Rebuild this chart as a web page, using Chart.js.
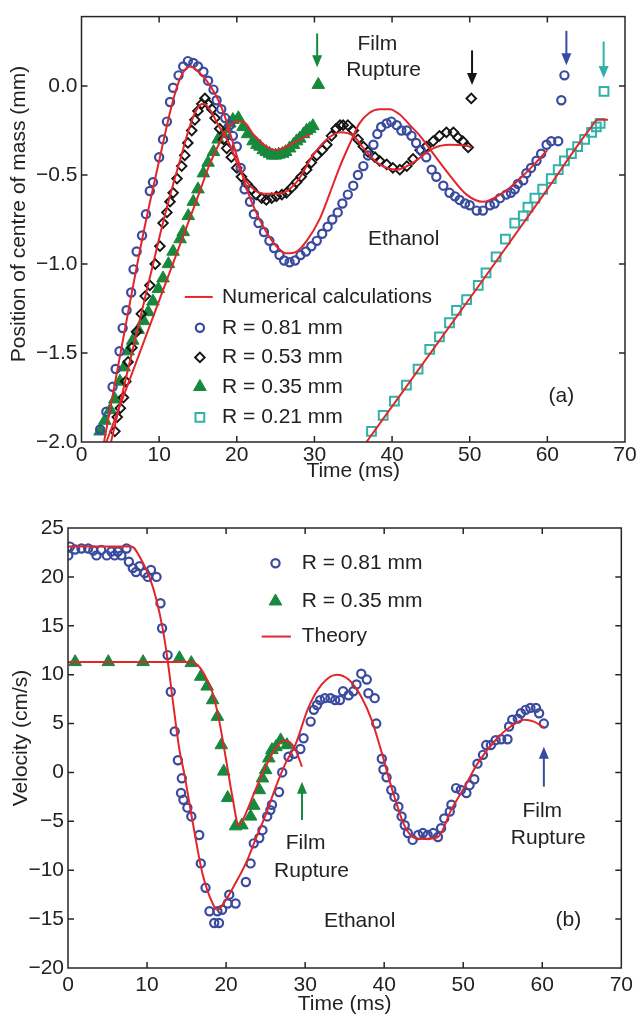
<!DOCTYPE html>
<html><head><meta charset="utf-8">
<script src="https://cdn.jsdelivr.net/npm/chart.js@4.4.0/dist/chart.umd.min.js"></script>
<style>
html,body{margin:0;padding:0;background:#fff;}
body{width:638px;height:1017px;position:relative;overflow:hidden;}
canvas{position:absolute;left:0;}
#ca{top:0;} #cb{top:484px;}
</style></head><body>
<canvas id="ca" width="638" height="484"></canvas>
<canvas id="cb" width="638" height="533"></canvas>
<script>
// shared axis ticks
const ticksX=[0,10,20,30,40,50,60,70];
const aTicksY=[-2,-1.5,-1,-0.5,0];
const bTicksY=[-20,-15,-10,-5,0,5,10,15,20,25];

// (a) position of centre of mass (mm) vs time (ms)
const aBlue=[[2.4,-1.93],[3.2,-1.83],[4.0,-1.69],[4.4,-1.59],[4.9,-1.49],[5.3,-1.36],[5.8,-1.26],[6.4,-1.16],[6.7,-1.03],[7.1,-0.93],[7.8,-0.84],[8.3,-0.72],[8.8,-0.59],[9.2,-0.54],[10.0,-0.40],[10.5,-0.30],[11.0,-0.20],[11.4,-0.09],[11.8,-0.01],[12.5,0.06],[13.1,0.11],[13.7,0.14],[14.4,0.13],[15.0,0.11],[15.7,0.08],[16.3,0.03],[17.0,-0.02],[17.4,-0.08],[18.0,-0.13],[18.5,-0.18],[19.1,-0.22],[19.5,-0.28],[20.0,-0.34],[20.5,-0.46],[21.0,-0.58],[21.7,-0.65],[22.2,-0.72],[22.8,-0.77],[23.5,-0.82],[24.2,-0.87],[24.8,-0.91],[25.5,-0.95],[26.1,-0.98],[26.8,-0.99],[27.5,-0.98],[28.2,-0.95],[28.9,-0.93],[29.6,-0.90],[30.3,-0.87],[31.0,-0.83],[31.7,-0.79],[32.3,-0.75],[33.0,-0.71],[33.6,-0.66],[34.3,-0.61],[35.0,-0.56],[35.6,-0.50],[36.3,-0.45],[36.9,-0.39],[37.6,-0.33],[38.1,-0.27],[38.6,-0.23],[39.3,-0.21],[39.9,-0.20],[40.6,-0.22],[41.2,-0.25],[41.9,-0.25],[42.5,-0.28],[43.1,-0.32],[43.7,-0.36],[44.4,-0.40],[45.1,-0.47],[45.7,-0.51],[46.6,-0.56],[47.4,-0.60],[48.1,-0.62],[48.7,-0.64],[49.4,-0.66],[50.0,-0.67],[50.9,-0.70],[51.7,-0.70],[52.6,-0.67],[53.2,-0.66],[53.9,-0.63],[54.7,-0.61],[55.3,-0.60],[55.8,-0.58],[56.2,-0.55],[56.9,-0.53],[57.3,-0.49],[57.9,-0.46],[58.6,-0.42],[59.2,-0.38],[59.9,-0.33],[60.5,-0.31],[61.4,-0.31],[61.8,-0.08],[62.2,0.06]];
const aBlack=[[4.3,-1.94],[4.6,-1.86],[5.0,-1.81],[5.4,-1.75],[5.7,-1.66],[6.0,-1.55],[6.5,-1.47],[7.1,-1.38],[7.7,-1.28],[8.2,-1.18],[8.8,-1.12],[9.5,-1.00],[10.1,-0.90],[10.5,-0.77],[11.0,-0.71],[11.4,-0.65],[11.8,-0.60],[12.3,-0.52],[12.9,-0.45],[13.3,-0.39],[13.7,-0.32],[14.2,-0.25],[14.6,-0.19],[15.0,-0.14],[15.5,-0.10],[15.9,-0.07],[16.3,-0.10],[16.8,-0.13],[17.2,-0.18],[17.8,-0.24],[18.3,-0.30],[18.7,-0.35],[19.3,-0.40],[20.0,-0.46],[20.6,-0.51],[21.3,-0.55],[21.9,-0.58],[22.5,-0.61],[23.2,-0.63],[23.8,-0.64],[24.5,-0.63],[25.1,-0.62],[25.8,-0.61],[26.4,-0.60],[27.1,-0.57],[27.7,-0.54],[28.3,-0.51],[29.0,-0.47],[29.6,-0.43],[30.3,-0.39],[31.0,-0.36],[31.6,-0.33],[32.2,-0.28],[32.8,-0.24],[33.3,-0.22],[33.7,-0.22],[34.3,-0.22],[35.0,-0.25],[35.6,-0.30],[36.3,-0.34],[36.9,-0.37],[37.8,-0.40],[38.4,-0.42],[39.3,-0.44],[40.1,-0.46],[41.0,-0.47],[41.9,-0.45],[42.7,-0.41],[43.6,-0.36],[44.4,-0.34],[45.3,-0.31],[46.1,-0.28],[47.0,-0.26],[47.9,-0.26],[48.5,-0.29],[49.1,-0.31],[49.8,-0.345],[50.2,-0.07]];
const aGreen=[[2.4,-1.94],[3.0,-1.88],[3.7,-1.82],[4.3,-1.76],[4.95,-1.66],[5.5,-1.58],[6.0,-1.49],[6.6,-1.43],[7.3,-1.37],[8.0,-1.32],[8.6,-1.27],[9.2,-1.21],[9.9,-1.14],[10.5,-1.08],[11.2,-1.00],[11.8,-0.93],[12.7,-0.86],[13.1,-0.82],[13.75,-0.73],[14.4,-0.65],[15.0,-0.58],[15.7,-0.49],[16.3,-0.43],[17.0,-0.37],[17.6,-0.30],[18.2,-0.27],[18.7,-0.24],[19.1,-0.21],[19.5,-0.19],[20.2,-0.18],[20.8,-0.23],[21.4,-0.27],[22.1,-0.31],[22.6,-0.33],[23.0,-0.34],[23.4,-0.36],[23.8,-0.37],[24.2,-0.38],[24.6,-0.39],[25.0,-0.39],[25.4,-0.385],[25.9,-0.38],[26.3,-0.37],[26.8,-0.35],[27.3,-0.33],[27.7,-0.31],[28.1,-0.295],[28.6,-0.27],[29.0,-0.25],[29.4,-0.24],[29.8,-0.225],[30.5,0.007]];
const aCyan=[[37.35,-1.94],[38.85,-1.85],[40.3,-1.77],[41.85,-1.68],[43.35,-1.59],[44.85,-1.48],[46.1,-1.41],[47.4,-1.33],[48.3,-1.26],[49.6,-1.20],[51.1,-1.12],[52.1,-1.05],[53.4,-0.96],[54.6,-0.86],[55.8,-0.77],[56.9,-0.73],[57.5,-0.68],[58.4,-0.63],[59.4,-0.58],[60.5,-0.52],[61.4,-0.47],[62.2,-0.42],[63.1,-0.38],[63.9,-0.34],[64.8,-0.30],[65.7,-0.26],[66.3,-0.23],[66.8,-0.21],[67.3,-0.03]];
const aCalcBlue=[[2.9,-2.0],[8.0,-0.82],[10.0,-0.42],[11.5,-0.13],[12.5,0.02],[13.3,0.09],[14.0,0.11],[14.8,0.09],[16.1,0.03],[17.4,-0.06],[18.3,-0.15],[19.1,-0.26],[20.4,-0.45],[21.3,-0.58],[22.5,-0.71],[23.8,-0.82],[25.1,-0.90],[26.4,-0.94],[27.7,-0.93],[29.0,-0.87],[30.7,-0.745],[32.0,-0.60],[33.3,-0.45],[34.6,-0.32],[35.8,-0.21],[37.1,-0.15],[38.4,-0.13],[39.7,-0.13],[41.0,-0.16],[42.3,-0.22],[43.6,-0.28],[45.3,-0.38],[47.4,-0.50],[49.6,-0.61],[51.7,-0.65],[53.9,-0.61],[56.0,-0.54],[58.1,-0.45],[60.0,-0.36]];
const aCalcBlack=[[3.8,-2.0],[10.2,-0.82],[11.5,-0.60],[12.8,-0.40],[14.0,-0.22],[15.0,-0.12],[15.7,-0.10],[16.5,-0.13],[17.5,-0.21],[19.1,-0.33],[20.4,-0.47],[21.3,-0.54],[23.4,-0.605],[25.5,-0.605],[27.7,-0.54],[29.8,-0.39],[31.6,-0.30],[33.3,-0.26],[35.0,-0.28],[36.7,-0.37],[38.4,-0.44],[40.6,-0.47],[42.7,-0.43],[45.3,-0.35],[47.4,-0.33],[49.6,-0.335],[50.2,-0.345]];
const aCalcGreen=[[3.2,-2.0],[13.3,-0.82],[15.0,-0.62],[16.5,-0.44],[18.0,-0.30],[19.0,-0.23],[20.0,-0.20],[20.8,-0.20],[22.1,-0.27],[23.8,-0.34],[25.1,-0.36],[26.4,-0.34],[28.1,-0.30],[29.5,-0.27]];
const aCalcCyan=[[36.7,-2.0],[51.7,-1.09],[60.0,-0.58],[65.5,-0.24],[66.5,-0.19],[67.8,-0.19]];

// (b) velocity (cm/s) vs time (ms)
const bBlue=[[0.04,22.2],[0.25,23.1],[0.9,22.8],[1.7,22.9],[2.55,22.9],[3.2,22.7],[3.6,22.2],[4.2,22.75],[4.9,22.2],[5.5,22.6],[5.9,22.2],[6.3,22.6],[6.75,22.2],[7.4,22.9],[7.7,21.55],[8.2,20.9],[8.6,20.5],[9.05,21.1],[9.7,20.4],[10.1,20.0],[10.5,20.7],[11.2,20.0],[11.7,17.3],[11.9,14.75],[12.6,12.0],[13.0,8.25],[13.5,4.2],[13.9,1.25],[14.3,-2.1],[14.4,-0.6],[14.6,-2.8],[15.1,-3.6],[15.6,-4.5],[16.6,-6.4],[16.8,-9.3],[17.4,-11.8],[17.9,-14.2],[18.5,-15.4],[18.9,-14.2],[19.1,-15.4],[19.5,-14.05],[20.2,-13.4],[20.4,-12.5],[21.2,-13.4],[22.5,-11.2],[23.1,-9.3],[23.5,-7.25],[24.2,-6.7],[24.6,-5.9],[25.2,-4.5],[25.6,-3.85],[25.8,-3.3],[26.7,-2.0],[27.1,0.0],[27.9,1.6],[28.6,1.9],[29.4,2.4],[29.8,3.5],[30.7,5.2],[31.1,6.4],[31.5,6.9],[31.9,7.4],[32.5,7.6],[33.2,7.6],[33.8,7.4],[34.4,7.4],[34.8,8.3],[35.5,7.9],[36.1,8.3],[36.5,9.0],[37.1,10.1],[37.8,9.5],[38.0,8.1],[38.8,7.6],[39.0,5.0],[39.7,1.4],[39.9,0.3],[40.3,-0.5],[40.9,-1.8],[41.3,-2.5],[41.8,-3.5],[42.2,-4.5],[42.6,-5.4],[43.0,-6.2],[43.6,-6.9],[44.3,-6.4],[44.9,-6.2],[45.5,-6.4],[46.2,-6.2],[46.8,-6.6],[47.2,-5.7],[47.6,-4.7],[48.3,-4.0],[48.5,-3.3],[49.1,-1.6],[49.7,-1.8],[50.4,-2.1],[50.8,-1.3],[51.4,-0.7],[51.8,0.9],[52.5,1.8],[52.9,2.8],[53.5,2.8],[54.1,3.3],[54.8,3.4],[55.6,3.4],[55.8,4.7],[56.2,5.4],[56.9,5.5],[57.3,6.05],[57.9,6.4],[58.5,6.6],[59.2,6.6],[59.6,6.05],[60.2,5.0]];
const bGreen=[[0.9,11.3],[5.1,11.3],[9.5,11.3],[14.1,11.7],[15.6,11.2],[16.8,9.8],[17.6,8.8],[18.3,7.4],[18.9,5.7],[19.4,2.8],[19.7,0.1],[20.2,-2.6],[21.2,-5.5],[22.0,-5.4],[23.1,-4.5],[23.5,-3.4],[24.2,-1.8],[24.6,-0.6],[25.0,0.25],[25.4,1.45],[25.8,2.3],[26.3,2.6],[26.9,3.3],[27.7,2.8]];
const bTheoryBlue=[[0,23.1],[8.0,23.1],[9.5,21.4],[10.3,20.0],[11.2,17.6],[12.0,14.6],[12.6,11.5],[13.25,7.4],[14.1,2.3],[14.7,-0.1],[15.8,-5.2],[17.0,-10.3],[18.3,-13.4],[18.9,-14.05],[20.0,-13.0],[21.2,-11.3],[22.5,-9.3],[23.7,-6.9],[25.0,-4.35],[26.3,-1.45],[27.5,0.9],[28.8,2.9],[30.4,6.6],[32.1,9.0],[34.0,10.0],[35.5,9.5],[37.1,7.75],[38.4,5.4],[39.7,2.0],[40.9,-1.45],[42.6,-5.5],[43.9,-6.7],[45.1,-6.8],[46.8,-6.6],[48.5,-3.8],[50.2,-1.45],[51.8,0.9],[54.3,3.5],[56.0,4.7],[57.7,5.4],[58.95,5.2],[60.2,4.6]];
const bTheoryGreen=[[0,11.3],[15.5,11.3],[16.4,11.0],[17.2,10.1],[18.3,8.1],[19.1,5.4],[20.0,1.3],[20.8,-2.5],[21.6,-5.4],[22.7,-3.8],[23.7,-1.8],[25.0,0.6],[26.3,2.5],[27.3,3.3],[28.6,2.6],[29.6,0.6]];

const FAM='"Liberation Sans", Arial, Helvetica, sans-serif';
const FONT='21px '+FAM;
Chart.defaults.font.family=FAM;
Chart.defaults.font.size=21;
Chart.defaults.color='#222';
const C={red:'#e3262b',blue:'#3a4b9f',black:'#151515',green:'#17893c',cyan:'#2fb2a8',ink:'#222'};

const xy=p=>p.map(([x,y])=>({x,y}));
function marks(data,color,style,r,bw,fill){
  return {data:xy(data),order:1,pointStyle:style,pointRadius:r,pointHoverRadius:r,pointBorderWidth:bw,
    pointBorderColor:color,pointBackgroundColor:fill?color:'rgba(0,0,0,0)',borderColor:color,backgroundColor:fill?color:'rgba(0,0,0,0)'};
}
function calc(data){
  return {data:xy(data),order:0,showLine:true,borderColor:C.red,borderWidth:2,pointRadius:0,pointHoverRadius:0,cubicInterpolationMode:'monotone',fill:false};
}
const minus=v=>(v<0?'\u2212':'');

function scales(yMin,yMax,yTicks,yFmt,leftW,bottomH,xPad){
  return {
    x:{type:'linear',min:0,max:70,
      afterBuildTicks:s=>{s.ticks=ticksX.map(v=>({value:v}));},
      afterFit:s=>{s.height=bottomH;},
      grid:{display:false,drawTicks:false},border:{display:false},
      ticks:{autoSkip:false,maxRotation:0,padding:xPad,callback:v=>String(v)},
      title:{display:true,text:'Time (ms)',padding:{top:0,bottom:0}}},
    y:{type:'linear',min:yMin,max:yMax,
      afterBuildTicks:s=>{s.ticks=yTicks.map(v=>({value:v}));},
      afterFit:s=>{s.width=leftW;},
      grid:{display:false,drawTicks:false},border:{display:false},
      ticks:{autoSkip:false,padding:4,callback:yFmt}}
  };
}

// frame with inward ticks, y title, notes, arrows and in-plot legend
function deco(cfg){
  return {id:'deco',afterDraw(chart){
    const {ctx,chartArea:a,scales:{x,y}}=chart;
    const px=v=>x.getPixelForValue(v),py=v=>y.getPixelForValue(v);
    ctx.save();
    ctx.strokeStyle='#262626';ctx.lineWidth=1.5;
    ctx.strokeRect(a.left,a.top,a.right-a.left,a.bottom-a.top);
    ctx.beginPath();
    x.ticks.forEach(t=>{const p=px(t.value);if(p<a.left+2||p>a.right-2)return;
      ctx.moveTo(p,a.bottom);ctx.lineTo(p,a.bottom-6);ctx.moveTo(p,a.top);ctx.lineTo(p,a.top+6);});
    y.ticks.forEach(t=>{const p=py(t.value);if(p<a.top+2||p>a.bottom-2)return;
      ctx.moveTo(a.left,p);ctx.lineTo(a.left+6,p);ctx.moveTo(a.right,p);ctx.lineTo(a.right-6,p);});
    ctx.stroke();

    ctx.font=FONT;ctx.fillStyle=C.ink;ctx.textBaseline='middle';ctx.textAlign='center';
    ctx.save();ctx.translate(cfg.yTitle.x,cfg.yTitle.y);ctx.rotate(-Math.PI/2);ctx.fillText(cfg.yTitle.text,0,0);ctx.restore();
    cfg.notes.forEach(n=>{ctx.fillText(n.text,px(n.x),py(n.y));});

    cfg.arrows.forEach(r=>{
      const X=px(r.x),Y0=py(r.y0),Y1=py(r.y1),d=Y1>Y0?1:-1;
      ctx.strokeStyle=r.c;ctx.fillStyle=r.c;ctx.lineWidth=2;
      ctx.beginPath();ctx.moveTo(X,Y0);ctx.lineTo(X,Y1-d*10);ctx.stroke();
      ctx.beginPath();ctx.moveTo(X,Y1);ctx.lineTo(X-5,Y1-d*12);ctx.lineTo(X+5,Y1-d*12);ctx.closePath();ctx.fill();
    });

    const L=cfg.legend;
    L.rows.forEach(r=>{
      const Y=py(r.y);
      if(r.ds==null){
        ctx.strokeStyle=C.red;ctx.lineWidth=2;ctx.beginPath();ctx.moveTo(px(L.lineFrom),Y);ctx.lineTo(px(L.lineTo),Y);ctx.stroke();
      }else{
        const ds=chart.data.datasets[r.ds];
        ctx.fillStyle=ds.pointBackgroundColor;ctx.strokeStyle=ds.pointBorderColor;ctx.lineWidth=ds.pointBorderWidth;
        Chart.helpers.drawPoint(ctx,{pointStyle:ds.pointStyle,radius:ds.pointRadius,borderWidth:ds.pointBorderWidth,rotation:0},px(L.markX),Y);
      }
      ctx.fillStyle=C.ink;ctx.textAlign='left';ctx.fillText(r.text,px(L.textX),Y);
    });
    ctx.restore();
  }};
}

const common={responsive:false,animation:false,devicePixelRatio:1,events:[],
  plugins:{legend:{display:false},tooltip:{enabled:false}}};

new Chart(document.getElementById('ca'),{
  type:'scatter',
  data:{datasets:[
    calc(aCalcBlue),calc(aCalcBlack),calc(aCalcGreen),calc(aCalcCyan),
    marks(aBlue,C.blue,'circle',4.1,2.2,false),
    marks(aBlack,C.black,'rectRot',4.8,1.9,false),
    marks(aGreen,C.green,'triangle',7.3,1,true),
    marks(aCyan,C.cyan,'rect',6.2,2,false)]},
  options:{...common,layout:{padding:{left:0,right:13,top:13,bottom:0}},
    scales:scales(-2,0.39,aTicksY,v=>minus(v)+Math.abs(v).toFixed(1),81.5,42,1)},
  plugins:[deco({
    yTitle:{text:'Position of centre of mass (mm)',x:19,y:214},
    notes:[{text:'Film',x:38.1,y:0.234},{text:'Rupture',x:38.9,y:0.089},{text:'Ethanol',x:41.5,y:-0.863},{text:'(a)',x:61.8,y:-1.74}],
    arrows:[{x:30.35,y0:0.295,y1:0.106,c:C.green},{x:50.3,y0:0.20,y1:0.006,c:C.black},{x:62.45,y0:0.31,y1:0.117,c:C.blue},{x:67.25,y0:0.25,y1:0.045,c:C.cyan}],
    legend:{lineFrom:13.3,lineTo:16.9,markX:15.25,textX:18.1,rows:[
      {y:-1.185,text:'Numerical calculations'},
      {y:-1.358,ds:4,text:'R = 0.81 mm'},
      {y:-1.525,ds:5,text:'R = 0.53 mm'},
      {y:-1.69,ds:6,text:'R = 0.35 mm'},
      {y:-1.862,ds:7,text:'R = 0.21 mm'}]}
  })]
});

new Chart(document.getElementById('cb'),{
  type:'scatter',
  data:{datasets:[
    calc(bTheoryBlue),calc(bTheoryGreen),
    marks(bBlue,C.blue,'circle',4.1,2.2,false),
    marks(bGreen,C.green,'triangle',7.3,1,true)]},
  options:{...common,layout:{padding:{left:0,right:13,top:44,bottom:0}},
    scales:scales(-20,25,bTicksY,v=>minus(v)+Math.abs(v),68,49,5)},
  plugins:[deco({
    yTitle:{text:'Velocity (cm/s)',x:21,y:254},
    notes:[{text:'Film',x:30.06,y:-7.2},{text:'Rupture',x:30.8,y:-10.1},{text:'Film',x:60.0,y:-4.0},{text:'Rupture',x:60.75,y:-6.7},{text:'Ethanol',x:36.9,y:-15.2},{text:'(b)',x:63.3,y:-15.1}],
    arrows:[{x:29.6,y0:-4.86,y1:-0.94,c:C.green},{x:60.2,y0:-1.45,y1:2.64,c:C.blue}],
    legend:{lineFrom:24.5,lineTo:28.2,markX:26.25,textX:29.56,rows:[
      {y:21.4,ds:2,text:'R = 0.81 mm'},
      {y:17.5,ds:3,text:'R = 0.35 mm'},
      {y:13.9,text:'Theory'}]}
  })]
});
</script></body></html>
